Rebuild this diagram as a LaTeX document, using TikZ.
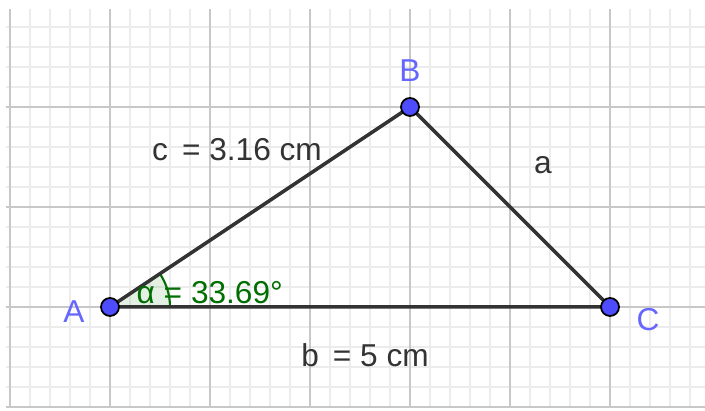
\documentclass[tikz,border=0pt]{standalone}
\usepackage{fontspec}
\setmainfont{Liberation Sans}
\usepackage{tikz}

\definecolor{ptblue}{RGB}{77,77,255}
\definecolor{lblblue}{RGB}{102,102,255}
\definecolor{anggreen}{RGB}{0,110,0}
\definecolor{edgegray}{RGB}{51,51,51}
\definecolor{gridmajor}{RGB}{200,200,200}
\definecolor{gridminor}{RGB}{236,236,236}

\begin{document}
\begin{tikzpicture}[x=1cm,y=1cm,every node/.style={font=\fontsize{9}{11}\selectfont},
  edge/.style={edgegray,line width=1pt},
  ptlabel/.style={text=lblblue},
  sidelabel/.style={text=edgegray}]
  \useasboundingbox (-1.10,-1.04) rectangle (5.95,3.07);
  % grid
  \draw[gridminor,line width=0.4pt,step=0.2] (-1.04,-1.01) grid (5.95,2.98);
  \draw[gridmajor,line width=0.6pt,step=1] (-1.04,-1.01) grid (5.95,2.98);
  \coordinate (A) at (0,0);
  \coordinate (B) at (3,2);
  \coordinate (C) at (5,0);
  % angle at A
  \fill[anggreen,opacity=0.1] (A) -- (0.6,0) arc[start angle=0,end angle=33.69,radius=0.6] -- cycle;
  \draw[anggreen,line width=0.6pt] (0.6,0) arc[start angle=0,end angle=33.69,radius=0.6];
  \draw[edge] (A)--(B)--(C)--cycle;
  \foreach \p in {A,B,C}{\filldraw[fill=ptblue,draw=black,line width=0.5pt] (\p) circle (0.09);}
  \node[ptlabel] (lA) at (-0.36,-0.05) {A};
  \node[ptlabel] (lB) at (3.0,2.36) {B};
  \node[ptlabel] (lC) at (5.38,-0.13) {C};
  \node[sidelabel] (lc) at (1.27,1.57) {c\, = 3.16 cm};
  \node[sidelabel] (la) at (4.33,1.42) {a};
  \node[sidelabel] (lb) at (2.55,-0.48) {b\, = 5 cm};
  \node[text=anggreen,anchor=west,inner sep=0pt] (lalpha) at (0.26,0.14) {α = 33.69°};
\end{tikzpicture}
\end{document}
